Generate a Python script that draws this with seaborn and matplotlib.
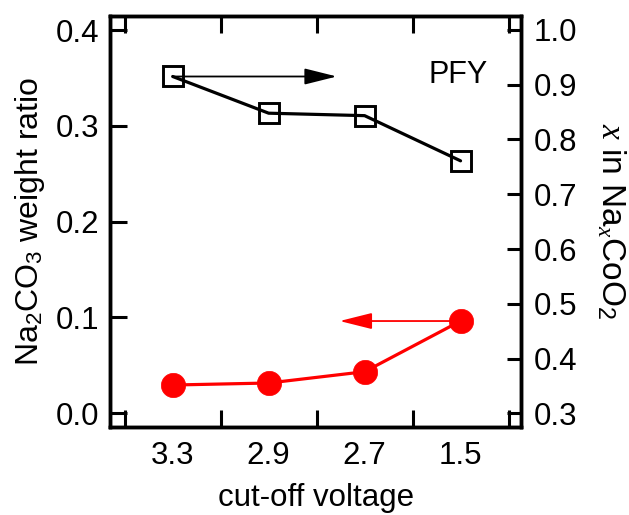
import numpy as np
import pandas as pd
import matplotlib
matplotlib.use("Agg")
import matplotlib.pyplot as plt
import seaborn as sns

# ---- data ----
voltage_labels = ["3.3", "2.9", "2.7", "1.5"]
na2co3_ratio = [0.0295, 0.0316, 0.0434, 0.0963]      # left axis (red circles)
na_content_x = [0.915, 0.848, 0.8435, 0.761]          # right axis (black squares)
left_ticks = [0.0, 0.1, 0.2, 0.3, 0.4]
right_ticks = [0.3, 0.4, 0.5, 0.6, 0.7, 0.8, 0.9, 1.0]
arrow_black_x = (0, 1.71)   # from first point to arrow tip (category units)
arrow_red_x = (3, 1.74)     # from last point to arrow tip (category units)
pfy_pos = (3.28, 0.918)

sns.set_style("ticks")
plt.rcParams["font.family"] = ["Liberation Sans", "DejaVu Sans"]
plt.rcParams["mathtext.fontset"] = "custom"
plt.rcParams["mathtext.rm"] = "Liberation Sans"
plt.rcParams["mathtext.it"] = "Liberation Serif:italic"
plt.rcParams["mathtext.bf"] = "Liberation Sans:bold"
for key in ("text.color", "axes.labelcolor", "xtick.color", "ytick.color",
            "axes.edgecolor"):
    plt.rcParams[key] = "black"

df = pd.DataFrame({"voltage": voltage_labels,
                   "ratio": na2co3_ratio,
                   "xna": na_content_x})

fig = plt.figure(figsize=(6.29, 5.15), dpi=100)
ax = fig.add_axes([0.1754, 0.1709, 0.6529, 0.7986])
ax2 = ax.twinx()

sns.pointplot(data=df, x="voltage", y="ratio", order=voltage_labels, ax=ax,
              color="#ff0000", markers="o", linestyles="-", errorbar=None)
sns.pointplot(data=df, x="voltage", y="xna", order=voltage_labels, ax=ax2,
              color="black", markers="s", linestyles="-", errorbar=None)

for ln in ax.lines:
    ln.set_linewidth(2.3)
    ln.set_markersize(17.5)
    ln.set_markeredgewidth(0.5)
    ln.set_markeredgecolor("#ff0000")
    ln.set_markerfacecolor("#ff0000")
for ln in ax2.lines:
    ln.set_linewidth(2.3)
    ln.set_markersize(15)
    ln.set_markeredgewidth(2.1)
    ln.set_markeredgecolor("black")
    ln.set_markerfacecolor("none")

# arrows
ax2.annotate("", xy=(arrow_black_x[1], na_content_x[0]),
             xytext=(arrow_black_x[0], na_content_x[0]),
             arrowprops=dict(arrowstyle="-|>,head_length=2.0,head_width=0.5",
                             color="black", lw=1.3, shrinkA=0, shrinkB=0,
                             mutation_scale=10))
ax.annotate("", xy=(arrow_red_x[1], na2co3_ratio[3]),
            xytext=(arrow_red_x[0], na2co3_ratio[3]),
            arrowprops=dict(arrowstyle="-|>,head_length=2.0,head_width=0.5",
                            color="#ff0000", lw=1.3, shrinkA=0, shrinkB=0,
                            mutation_scale=10))

ax2.text(pfy_pos[0], pfy_pos[1], "PFY", ha="right", va="center", fontsize=22,
         color="black")

# limits
ax.set_xlim(-0.65, 3.63)
ax.set_ylim(-0.0143, 0.415)
ax2.set_ylim(0.275, 1.026)

# ticks
ax.set_xticks(range(len(voltage_labels)))
ax.set_xticklabels(voltage_labels)
ax.set_xticks(np.arange(-0.5, len(voltage_labels), 1.0), minor=True)
ax.tick_params(axis="x", which="major", length=0, pad=10, labelsize=22.5,
               labelcolor="black")
ax.tick_params(axis="x", which="minor", direction="in", length=12, width=2.2,
               top=True, bottom=True, color="black")
ax.set_yticks(left_ticks)
ax.set_yticklabels([f"{v:.1f}" for v in left_ticks])
ax.tick_params(axis="y", which="major", direction="in", length=12, width=2.2,
               left=True, right=False, labelsize=22.5, pad=8,
               color="black", labelcolor="black")
ax.yaxis.set_minor_locator(matplotlib.ticker.NullLocator())

ax2.set_yticks(right_ticks)
ax2.set_yticklabels([f"{v:.1f}" for v in right_ticks])
ax2.tick_params(axis="y", which="major", direction="in", length=10, width=2.2,
                right=True, left=False, labelsize=22.5, pad=9,
                color="black", labelcolor="black")
ax2.yaxis.set_minor_locator(matplotlib.ticker.NullLocator())

for a in (ax, ax2):
    for s in a.spines.values():
        s.set_visible(True)
        s.set_linewidth(2.5)
        s.set_color("black")
    a.grid(False)

ax.set_xlabel("cut-off voltage", fontsize=22.5, labelpad=9, color="black")
ax.set_ylabel("Na$_2$CO$_3$ weight ratio", fontsize=23, labelpad=6,
              color="black")
ax2.set_ylabel("$x$ in Na$_x$CoO$_2$", fontsize=24, rotation=270,
               va="bottom", labelpad=13, color="black")

fig.savefig("out.png", dpi=100)
